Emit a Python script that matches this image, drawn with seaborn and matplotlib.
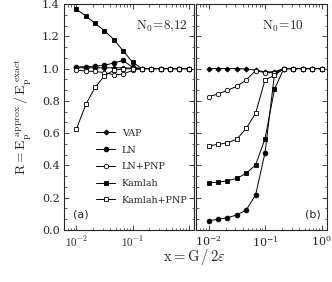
import numpy as np
import pandas as pd
import matplotlib
matplotlib.use("Agg")
import matplotlib.pyplot as plt
from matplotlib.ticker import MultipleLocator, LogLocator, NullFormatter, FixedLocator
import seaborn as sns

# x = G / 2 eps, same grid in both panels
x = [0.01, 0.0147, 0.0215, 0.0316, 0.0464, 0.0681, 0.1, 0.147, 0.215, 0.316, 0.464, 0.681, 1.0]

# panel (a): N0 = 8,12
vap_a = [1.005, 1.005, 1.005, 1.005, 1.005, 1.005, 1.003, 1.0, 1.0, 1.0, 1.0, 1.0, 1.0]
ln_a = [1.01, 1.012, 1.015, 1.02, 1.035, 1.05, 1.008, 1.0, 1.0, 1.0, 1.0, 1.0, 1.0]
lnpnp_a = [0.99, 0.985, 0.982, 0.975, 0.962, 0.965, 0.99, 1.0, 1.0, 1.0, 1.0, 1.0, 1.0]
kam_a = [1.367, 1.326, 1.28, 1.235, 1.18, 1.11, 1.04, 1.0, 1.0, 1.0, 1.0, 1.0, 1.0]
kampnp_a = [0.625, 0.778, 0.883, 0.955, 0.99, 0.997, 1.0, 1.0, 1.0, 1.0, 1.0, 1.0, 1.0]

# panel (b): N0 = 10
vap_b = [1.0, 1.0, 1.0, 1.0, 0.998, 0.99, 0.98, 0.98, 1.0, 1.0, 1.0, 1.0, 1.0]
ln_b = [0.058, 0.066, 0.076, 0.093, 0.124, 0.217, 0.479, 0.965, 1.0, 1.0, 1.0, 1.0, 1.0]
lnpnp_b = [0.826, 0.842, 0.865, 0.89, 0.929, 0.987, 0.975, 0.975, 1.0, 1.0, 1.0, 1.0, 1.0]
kam_b = [0.293, 0.296, 0.305, 0.32, 0.351, 0.403, 0.565, 0.872, 1.0, 1.0, 1.0, 1.0, 1.0]
kampnp_b = [0.522, 0.53, 0.54, 0.562, 0.63, 0.723, 0.93, 0.958, 1.0, 1.0, 1.0, 1.0, 1.0]

labels = ["VAP", "LN", "LN+PNP", "Kamlah", "Kamlah+PNP"]

sns.set_style("ticks")
plt.rcParams["font.family"] = ["DejaVu Serif"]
plt.rcParams["mathtext.fontset"] = "cm"
plt.rcParams["xtick.direction"] = "in"
plt.rcParams["ytick.direction"] = "in"

# marker styles: (marker, size, filled)
styles = [("D", 2.6, True), ("o", 3.4, True), ("o", 3.2, False),
          ("s", 3.5, True), ("s", 3.5, False)]

fig = plt.figure(figsize=(3.32, 2.82), dpi=100)
ax1 = fig.add_axes([64 / 332, 1 - 230 / 282, 130 / 332, 226 / 282])
ax2 = fig.add_axes([196 / 332, 1 - 230 / 282, 131 / 332, 226 / 282])


def draw_panel(ax, series):
    for ys, lab, (m, ms, filled) in zip(series, labels, styles):
        df = pd.DataFrame({"x": x, "y": ys})
        sns.lineplot(data=df, x="x", y="y", ax=ax, color="black", lw=0.7,
                     marker=m, markersize=ms, markeredgewidth=0.6,
                     markerfacecolor="black" if filled else "white",
                     markeredgecolor="black", label=lab, estimator=None,
                     sort=False, legend=False)
    ax.set_xscale("log")
    ax.set_xlim(0.006, 1.25)
    ax.set_ylim(0.0, 1.4)
    ax.yaxis.set_major_locator(MultipleLocator(0.2))
    ax.yaxis.set_minor_locator(MultipleLocator(0.2 / 3))
    ax.xaxis.set_major_locator(LogLocator(base=10))
    ax.xaxis.set_minor_locator(LogLocator(base=10, subs=np.arange(2, 10)))
    ax.xaxis.set_minor_formatter(NullFormatter())
    ax.tick_params(which="both", top=True, right=True, labelsize=8, pad=3)
    ax.tick_params(which="major", length=3.5, width=0.6)
    ax.tick_params(which="minor", length=1.8, width=0.5)
    for s in ax.spines.values():
        s.set_linewidth(0.8)
    ax.set_xlabel("")
    ax.set_ylabel("")


draw_panel(ax1, [vap_a, ln_a, lnpnp_a, kam_a, kampnp_a])
draw_panel(ax2, [vap_b, ln_b, lnpnp_b, kam_b, kampnp_b])

ax1.xaxis.set_major_locator(FixedLocator([0.01, 0.1, 1.0]))
ax1.set_xticklabels([r"$10^{-2}$", r"$10^{-1}$", ""])
ax2.set_yticklabels([])

ax1.set_ylabel(r"$\mathrm{R=E_p^{\ approx}\,/\,E_p^{\ exact}}$", fontsize=10, labelpad=6)
fig.text(0.585, 0.09, r"$\mathrm{x=G\,/\,2}\varepsilon$", fontsize=10.5, ha="center", va="center")

ax1.text(0.95, 0.90, r"$\mathrm{N_0\!=\!8{,}12}$", transform=ax1.transAxes, fontsize=9.5,
         ha="right", va="center")
ax2.text(0.82, 0.90, r"$\mathrm{N_0\!=\!10}$", transform=ax2.transAxes, fontsize=9.5,
         ha="right", va="center")
ax1.text(0.07, 0.07, "(a)", transform=ax1.transAxes, fontsize=8, family="DejaVu Sans",
         ha="left", va="center")
ax2.text(0.95, 0.07, "(b)", transform=ax2.transAxes, fontsize=8, family="DejaVu Sans",
         ha="right", va="center")

ax1.legend(loc="lower left", bbox_to_anchor=(0.22, 0.095), frameon=False, fontsize=6.8,
           handlelength=2.0, handletextpad=0.7, labelspacing=0.82, borderaxespad=0)

fig.savefig("out.png", dpi=100)
